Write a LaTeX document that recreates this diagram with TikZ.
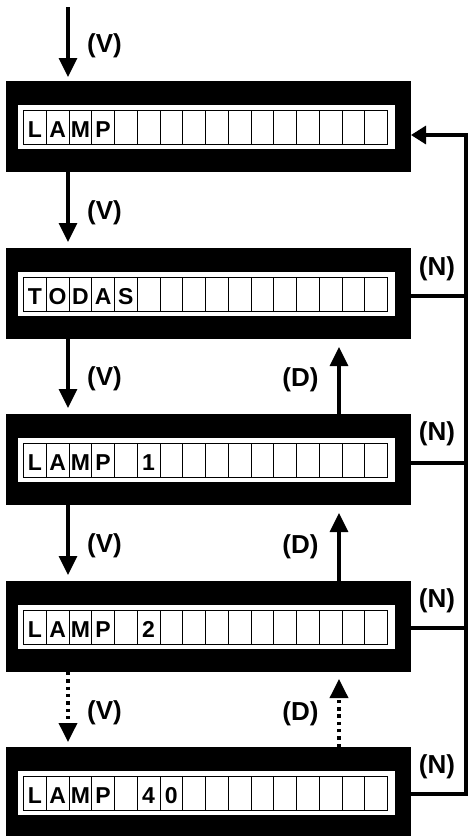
\documentclass[tikz,border=0pt]{standalone}
\usepackage{fontspec}
\setmainfont{Liberation Sans}
\usetikzlibrary{arrows.meta}
\newcommand{\lcdpanel}[3]{%
  \node[panel] (#1) at (208.5,#2+45.5) {};
  \fill[white] (18.3,#2+23.5) rectangle (395,#2+68);
  \foreach \i in {0,...,15} \draw[cellline] ({23.5+\i*22.75},#2+29) rectangle ++(22.75,34.5);
  \foreach \c [count=\k from 0] in {#3} \node[chr] (#1c\k) at ({23.5+\k*22.75+11.375},#2+56) {\c};
}
\begin{document}
\begin{tikzpicture}[x=1pt,y=-1pt,
  panel/.style={fill=black, draw=none, minimum width=405pt, minimum height=91pt, inner sep=0pt, outer sep=0pt},
  conn/.style={line width=3.2pt},
  vtip/.style={-{Triangle[length=19pt,width=18pt]}},
  htip/.style={-{Triangle[length=15pt,width=18pt]}},
  lab/.style={font=\fontsize{26}{26}\selectfont\bfseries, inner sep=0pt},
  chr/.style={font=\fontsize{23}{23}\selectfont\bfseries, inner sep=0pt, anchor=base},
  cellline/.style={draw=black, line width=1pt},
  dots/.style={line width=3.6pt, dash pattern=on 3.4pt off 3.9pt}
]
\useasboundingbox (0,0) rectangle (468,836);
\lcdpanel{b1}{81}{L,A,M,P}
\lcdpanel{b2}{248}{T,O,D,A,S}
\lcdpanel{b3}{414}{L,A,M,P,{},1}
\lcdpanel{b4}{581}{L,A,M,P,{},2}
\lcdpanel{b5}{747}{L,A,M,P,{},4,0}
\coordinate (top) at (68,7);
\coordinate (vx) at (68,0);
\coordinate (dx) at (339,0);
\coordinate (rx) at (466,0);
% V arrows
\draw[conn,vtip,shorten >=4pt] (top) -- (b1.north -| top);
\draw[conn,vtip,shorten >=6pt] (b1.south -| vx) -- (b2.north -| vx);
\draw[conn,vtip,shorten >=6pt] (b2.south -| vx) -- (b3.north -| vx);
\draw[conn,vtip,shorten >=6pt] (b3.south -| vx) -- (b4.north -| vx);
\draw[conn,vtip,dots,shorten >=5pt] (b4.south -| vx) -- (b5.north -| vx);
% D arrows
\draw[conn,vtip,shorten >=8pt] (b3.north -| dx) -- (b2.south -| dx);
\draw[conn,vtip,shorten >=8pt] (b4.north -| dx) -- (b3.south -| dx);
\draw[conn,vtip,dots,shorten >=7pt] (b5.north -| dx) -- (b4.south -| dx);
% N lines
\coordinate (n1) at ([yshift=-8.5pt]b1.east);
\draw[conn,htip,line join=miter] ([yshift=-1.5pt]b5.east) -| (rx |- n1) -- (n1);
\draw[conn] ([yshift=-2.5pt]b2.east) -- ([yshift=-2.5pt]b2.east -| rx);
\draw[conn] ([yshift=-3.5pt]b3.east) -- ([yshift=-3.5pt]b3.east -| rx);
\draw[conn] ([yshift=-1.5pt]b4.east) -- ([yshift=-1.5pt]b4.east -| rx);
% labels
\node[lab] (v0) at (104.5,46) {(V)};
\node[lab] (v1) at (104.5,213) {(V)};
\node[lab] (v2) at (104.5,379) {(V)};
\node[lab] (v3) at (104.5,546) {(V)};
\node[lab] (v4) at (104.5,713) {(V)};
\node[lab] (d1) at (300.5,380) {(D)};
\node[lab] (d2) at (300.5,547) {(D)};
\node[lab] (d3) at (300.5,714) {(D)};
\node[lab] (m1) at (437,269) {(N)};
\node[lab] (m2) at (437,434) {(N)};
\node[lab] (m3) at (437,601) {(N)};
\node[lab] (m4) at (437,767) {(N)};
\end{tikzpicture}
\end{document}
